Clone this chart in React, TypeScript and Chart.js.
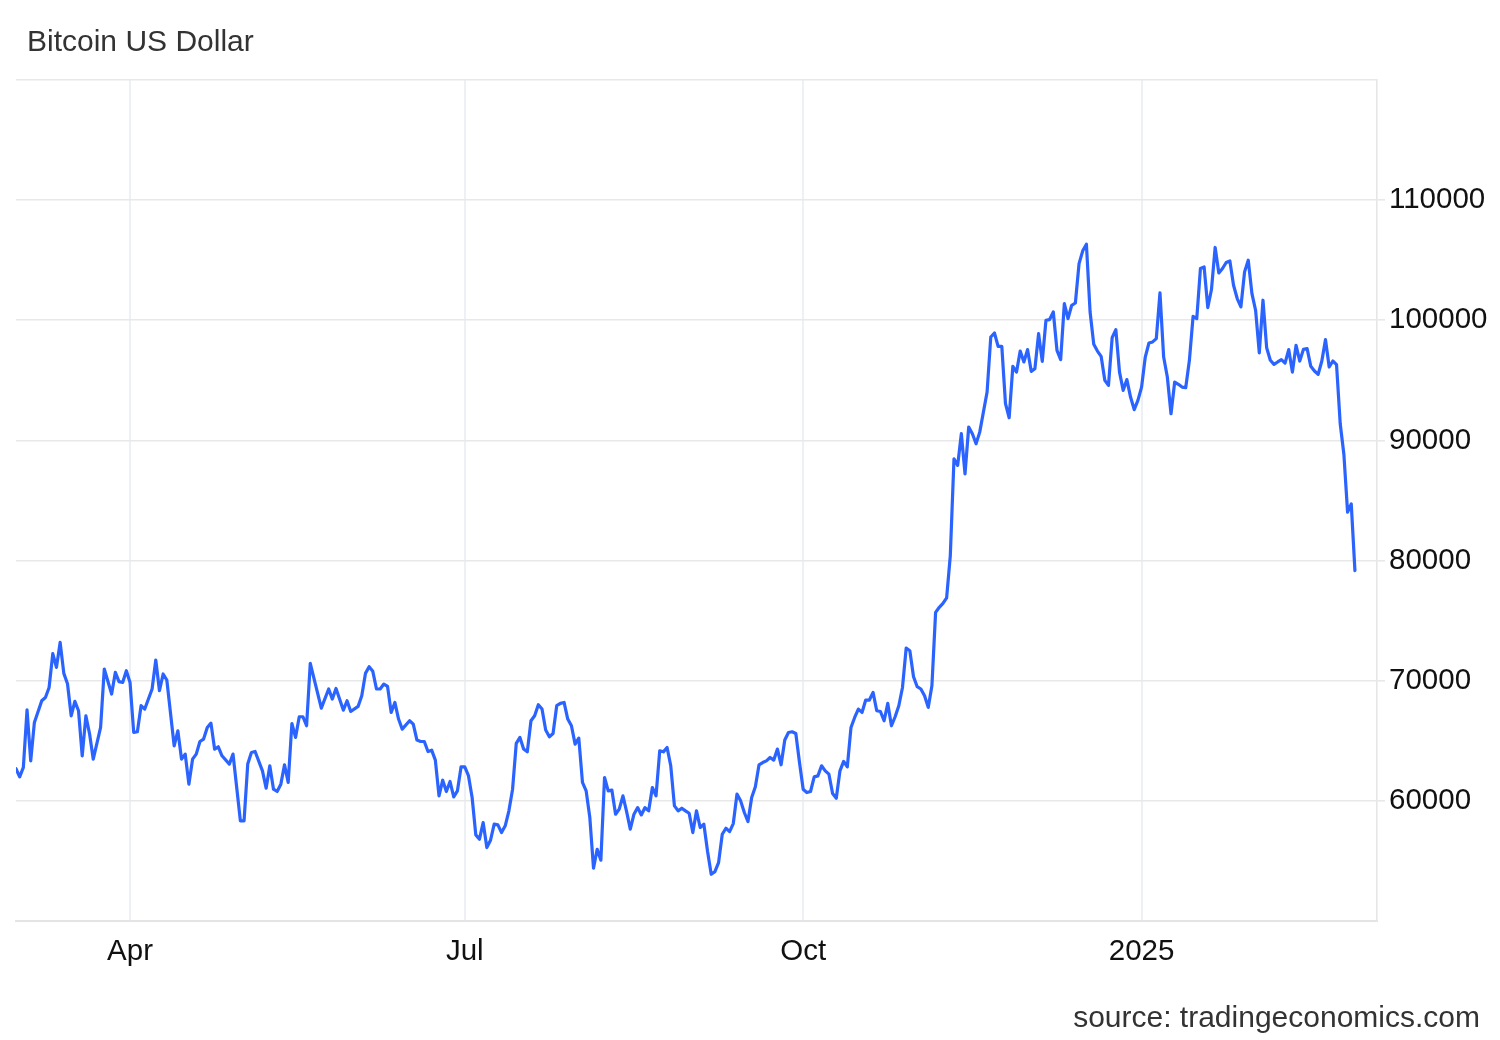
import React, { useEffect, useRef } from 'react';
import { Chart, registerables } from 'chart.js';

Chart.register(...registerables);

// Days counted from 2024-03-01
const START_DATE = '2024-03-01';

const dayOffsets = [
  0, 1, 2, 3, 4, 5, 7, 8, 9, 10, 11, 12, 13, 14, 15, 16, 17, 18, 19, 20, 21, 23, 24, 26, 27, 28, 29, 30,
  31, 32, 33, 34, 35, 37, 38, 39, 40, 41, 43, 44, 45, 46, 47, 48, 49, 50, 51, 52, 53, 54, 55, 56, 58, 59,
  60, 61, 62, 63, 64, 65, 67, 68, 69, 70, 71, 72, 73, 74, 75, 76, 77, 78, 79, 80, 83, 85, 86, 87, 89, 90,
  91, 93, 94, 95, 96, 97, 98, 99, 100, 101, 102, 103, 104, 105, 107, 108, 109, 110, 111, 112, 113, 114,
  115, 116, 117, 118, 119, 120, 121, 122, 123, 124, 125, 126, 127, 128, 129, 130, 131, 132, 133, 134,
  135, 136, 137, 138, 139, 140, 141, 142, 143, 144, 145, 146, 147, 148, 149, 150, 151, 152, 153, 154,
  155, 156, 157, 158, 159, 160, 161, 162, 163, 164, 165, 166, 167, 168, 169, 170, 171, 172, 173, 174,
  175, 176, 177, 178, 179, 180, 181, 182, 183, 184, 185, 186, 187, 188, 189, 190, 191, 192, 193, 194,
  195, 196, 197, 198, 199, 200, 201, 202, 203, 204, 205, 206, 207, 208, 209, 210, 211, 212, 213, 214,
  215, 216, 217, 218, 219, 220, 221, 222, 223, 224, 225, 226, 227, 228, 229, 230, 231, 232, 233, 234,
  235, 236, 237, 238, 239, 240, 241, 242, 243, 244, 245, 246, 247, 248, 249, 250, 251, 252, 253, 254,
  255, 256, 257, 258, 259, 260, 261, 262, 263, 264, 265, 266, 267, 268, 269, 270, 271, 272, 273, 274,
  275, 276, 277, 278, 279, 280, 281, 282, 283, 284, 285, 286, 287, 288, 289, 290, 291, 292, 293, 294,
  295, 296, 297, 298, 299, 300, 301, 302, 303, 304, 305, 306, 307, 308, 309, 310, 311, 312, 313, 314,
  315, 316, 317, 318, 319, 320, 321, 322, 323, 324, 325, 326, 327, 328, 329, 330, 331, 332, 333, 334,
  335, 336, 337, 338, 339, 340, 341, 342, 343, 344, 345, 346, 347, 348, 349, 350, 351, 352, 353, 354,
  355, 356, 357, 358, 359, 360, 361, 362, 363, 364,
];

const prices = [
  62670, 62000, 62780, 67580, 63330, 66530, 68330, 68600, 69440, 72250, 71110, 73190, 70610, 69750, 67080,
  68280, 67500, 63750, 67080, 65580, 63470, 66110, 70970, 68890, 70690, 69920, 69860, 70830,
  69860, 65690, 65750, 67920, 67640, 69310, 71720, 69170, 70560, 70060, 64580, 65830, 63470, 63890, 61390,
  63470, 63890, 64940, 65140, 66110, 66470, 64300, 64500, 63750, 63060, 63890,
  61110, 58330, 58330, 63060, 64030, 64110, 62500, 61050, 62920, 60970, 60780, 61390, 63000, 61530, 66440,
  65280, 67000, 67000, 66250, 71440, 67720, 69310, 68470, 69360, 67550, 68330,
  67440, 67860, 68750, 70610, 71170, 70780, 69310, 69310, 69720, 69530, 67360, 68190, 66810, 65970, 66670,
  66390, 65060, 64940, 64940, 64110, 64220, 63390,
  60420, 61720, 60780, 61610, 60330, 60830, 62830, 62830, 62100, 60280, 57170, 56810, 58190, 56110, 56720,
  58060, 58000, 57360, 57920, 59170,
  60970, 64780, 65280, 64310, 64080, 66670, 67080, 68000, 67640, 65890, 65330, 65610, 67920, 68110, 68190,
  66810, 66250, 64720, 65220, 61530,
  60830, 58610, 54390, 55970, 55060, 61940, 60830, 60890, 58890, 59310, 60420, 59110, 57640, 58890, 59440,
  58830, 59440, 59170, 61110, 60420,
  64170, 64080, 64440, 62920, 59580, 59170, 59390, 59170, 58970, 57360, 59170, 57780, 58060, 55800, 53890,
  54110, 54860, 57220, 57720, 57440,
  58110, 60560, 60000, 59030, 58280, 60280, 61170, 63000, 63190, 63330, 63610, 63390, 64310, 63000, 65060,
  65690, 65750, 65610, 63190, 60970,
  60690, 60780, 62000, 62080, 62920, 62500, 62220, 60610, 60220, 62500, 63280, 62830, 66110, 66940, 67640,
  67360, 68390, 68390, 69030, 67500,
  67440, 66670, 68110, 66250, 67000, 67920, 69440, 72720, 72500, 70330, 69500, 69310, 68750, 67780, 69580,
  75690, 76110, 76440, 76900, 80420,
  88470, 87920, 90560, 87220, 91110, 90560, 89720, 90690, 92360, 94030, 98610, 98940, 97830, 97830, 93060,
  91890, 96170, 95690, 97440, 96530,
  97560, 95750, 95970, 98890, 96580, 100000, 100060, 100690, 97500, 96720, 101390, 100140, 101250, 101440,
  104720, 105780, 106330, 100690, 98000, 97440,
  97000, 95000, 94580, 98560, 99220, 95690, 94170, 95060, 93610, 92560, 93330, 94440, 96940, 98110, 98200,
  98470, 102280, 96940, 95280, 92220,
  94860, 94670, 94440, 94390, 96670, 100330, 100140, 104310, 104440, 101060, 102560, 106060, 103940, 104310,
  104810, 104940, 102920, 101810, 101110, 104030,
  105000, 102220, 100830, 97280, 101670, 97720, 96670, 96330, 96530, 96720, 96440, 97560, 95690, 97920,
  96610, 97580, 97640, 96170, 95780, 95500,
  96610, 98390, 96110, 96610, 96310, 91390, 88830, 84030, 84720, 79170,
];

const xTickDays = [31, 122, 214, 306];
const xTickLabels = ['Apr', 'Jul', 'Oct', '2025'];
const yGridValues = [50000, 60000, 70000, 80000, 90000, 100000, 110000, 120000];
const yLabelledValues = [60000, 70000, 80000, 90000, 100000, 110000];

const TITLE = 'Bitcoin US Dollar';
const SOURCE = 'source: tradingeconomics.com';

const FONT = "'Liberation Sans', Arial, Helvetica, sans-serif";

export default function App() {
  const canvasRef = useRef<HTMLCanvasElement | null>(null);

  useEffect(() => {
    document.body.style.margin = '0';
    const canvas = canvasRef.current;
    if (!canvas) return;
    const points = dayOffsets.map((d, i) => ({ x: d, y: prices[i] }));
    const chart = new Chart(canvas, {
      type: 'line',
      data: {
        datasets: [
          {
            label: TITLE + ' (' + START_DATE + ')',
            data: points,
            borderColor: '#2b63ff',
            borderWidth: 3.2,
            pointRadius: 0,
            pointHoverRadius: 0,
            tension: 0,
            fill: false,
            borderJoinStyle: 'round',
            borderCapStyle: 'round',
          },
        ],
      },
      options: {
        responsive: false,
        animation: false,
        layout: { padding: { left: 16, top: 80, right: 0, bottom: 0 } },
        plugins: {
          legend: { display: false },
          tooltip: { enabled: false },
        },
        scales: {
          x: {
            type: 'linear',
            min: 0,
            max: 370,
            afterBuildTicks: (s: any) => {
              s.ticks = xTickDays.map((v) => ({ value: v }));
            },
            afterFit: (s: any) => {
              s.height = 119;
            },
            ticks: {
              autoSkip: false,
              maxRotation: 0,
              minRotation: 0,
              padding: 13,
              color: '#111',
              font: { family: FONT, size: 29.5 },
              callback: (v: any) => {
                const i = xTickDays.indexOf(Number(v));
                return i >= 0 ? xTickLabels[i] : '';
              },
            },
            grid: { color: '#edf1f6', lineWidth: 2, drawTicks: false },
            border: { color: '#e4e4e4', width: 2 },
          },
          y: {
            position: 'right',
            min: 50000,
            max: 120000,
            afterBuildTicks: (s: any) => {
              s.ticks = yGridValues.map((v) => ({ value: v }));
            },
            afterFit: (s: any) => {
              s.width = 123;
            },
            ticks: {
              padding: 4,
              color: '#111',
              font: { family: FONT, size: 29.5 },
              callback: (v: any) => (yLabelledValues.includes(Number(v)) ? String(v) : ''),
            },
            grid: {
              color: '#e8e8e8',
              lineWidth: 1.6,
              tickLength: 8,
              tickColor: (ctx: any) =>
                ctx.tick && yLabelledValues.includes(ctx.tick.value) ? '#e8e8e8' : 'rgba(0,0,0,0)',
            },
            border: { color: '#e6e6e6', width: 1.6 },
          },
        },
      },
    });
    return () => chart.destroy();
  }, []);

  return (
    <div style={{ position: 'relative', width: 1500, height: 1040, background: '#fff', overflow: 'hidden' }}>
      <canvas ref={canvasRef} width={1500} height={1040} style={{ display: 'block', width: 1500, height: 1040 }} />
      <div
        style={{
          position: 'absolute',
          left: 27,
          top: 26,
          fontFamily: FONT,
          fontSize: 30,
          lineHeight: '30px',
          color: '#333',
          whiteSpace: 'nowrap',
        }}
      >
        {TITLE}
      </div>
      <div
        style={{
          position: 'absolute',
          right: 20,
          top: 1002,
          fontFamily: FONT,
          fontSize: 30,
          lineHeight: '30px',
          color: '#333',
          whiteSpace: 'nowrap',
        }}
      >
        {SOURCE}
      </div>
    </div>
  );
}
